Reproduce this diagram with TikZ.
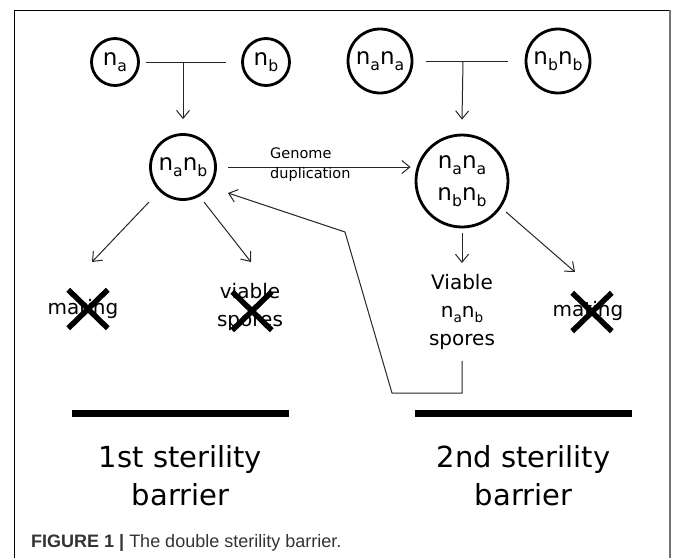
\documentclass[tikz,border=0pt]{standalone}
\usepackage{fontspec}
\setmainfont{DejaVu Sans}
\newfontfamily\capfont{Liberation Sans}
\usetikzlibrary{arrows.meta,calc,shapes.misc}
\newcommand\lowsub[1]{\raisebox{-0.25em}{\scalebox{0.68}{#1}}}
\tikzset{
  circ/.style={circle, draw=black, line width=2.8pt, inner sep=0pt, font=\fontsize{23}{30}\selectfont, align=center},
  conn/.style={line width=1pt, draw=black!85},
  arr/.style={conn, -{Straight Barb[length=8pt,width=13pt]}},
  lbl/.style={font=\fontsize{20}{28}\selectfont, align=center, inner sep=0pt},
  xmark/.style={cross out, draw=black, line width=5.5pt, inner sep=0pt, minimum width=34pt, minimum height=33pt},
  bar/.style={line width=7pt, draw=black},
  barrier/.style={font=\fontsize{29}{38}\selectfont, align=center, inner sep=0pt}
}
\begin{document}
\begin{tikzpicture}[x=1pt,y=-1pt]
\useasboundingbox (0,0) rectangle (673,558);
% frame
\coordinate (fbl) at (14,558);
\coordinate (ftl) at (14,10);
\coordinate (ftr) at (670,10);
\coordinate (fbr) at (670,558);
\draw[line width=1pt] (fbl) -- (ftl) -- (ftr);
\draw[line width=2pt, draw=black!55] (ftr) -- (fbr);

% circles
\node[circ, minimum size=47pt] (na) at (115,62) {n\lowsub{a}};
\node[circ, minimum size=47pt] (nb) at (266,62) {n\lowsub{b}};
\node[circ, minimum size=64pt] (nana) at (380,61) {n\lowsub{a}n\lowsub{a}};
\node[circ, minimum size=64pt] (nbnb) at (558,61) {n\lowsub{b}n\lowsub{b}};
\node[circ, minimum size=65pt] (nanb) at (183,167) {n\lowsub{a}n\lowsub{b}};
\node[circ, minimum size=92pt] (big) at (462,181) {n\lowsub{a}n\lowsub{a}\\[2pt]n\lowsub{b}n\lowsub{b}};

% left cross
\coordinate (j1) at (183,62);
\draw[conn] ($(na.east)+(6,0)$) -- ($(nb.west)+(-15,0)$);
\draw[arr] (j1) -- ($(nanb.north)+(0,-14)$);
% right cross
\coordinate (j2) at (463,62);
\draw[conn] ($(nana.east)+(13,0)$) -- ($(nbnb.west)+(-17,0)$);
\draw[arr] (j2) -- ($(big.north)+(0,-14)$);

% genome duplication
\draw[arr] ($(nanb.east)+(11,0)$) -- ($(nanb.east -| big.west)+(-4,0)$);
\node[anchor=west, align=left, inner sep=0pt, font=\fontsize{14.5}{20}\selectfont] (gd) at (270,165) {Genome\\duplication};

% first outcomes
\node[lbl] (mat1) at (83,309) {mating};
\node[lbl] (vsp) at (250,307) {viable\\spores};
\node[xmark] (x1) at (88,309) {};
\node[xmark] (x2) at (252,311) {};
\coordinate (t1) at (92,262);
\coordinate (t2) at (251,262);
\draw[arr] ($(nanb.center)+(-34,35)$) -- (t1);
\draw[arr] ($(nanb.center)+(21,35)$) -- (t2);

% second outcomes
\node[lbl] (vs) at (462,312) {Viable\\n\lowsub{a}n\lowsub{b}\\spores};
\node[lbl] (mat2) at (588,311) {mating};
\node[xmark] (x3) at (592,312) {};
\coordinate (t3) at (462,263);
\coordinate (t4) at (575,272);
\draw[arr] ($(big.south)+(0,5)$) -- (t3);
\draw[arr] ($(big.center)+(44,31)$) -- (t4);

% feedback
\coordinate (fb1) at (462,393);
\coordinate (fb2) at (392,393);
\coordinate (fb3) at (345,232);
\coordinate (fb4) at (228,193);
\draw[arr] ($(vs.south)+(0,11)$) -- (fb1) -- (fb2) -- (fb3) -- (fb4);

% barriers
\coordinate (b1l) at (72,413);
\coordinate (b1r) at (289,413);
\coordinate (b2l) at (415,413);
\coordinate (b2r) at (632,413);
\draw[bar] (b1l) -- (b1r);
\draw[bar] (b2l) -- (b2r);
\node[barrier] (bt1) at (180.5,476) {1st sterility\\barrier};
\node[barrier] (bt2) at (523.5,476) {2nd sterility\\barrier};

% caption
\node[anchor=base west, inner sep=0pt, text=black!80, font=\capfont\fontsize{18}{22}\selectfont] (cap) at (31,547) {\textbf{FIGURE 1 |} The double sterility barrier.};
\end{tikzpicture}
\end{document}
